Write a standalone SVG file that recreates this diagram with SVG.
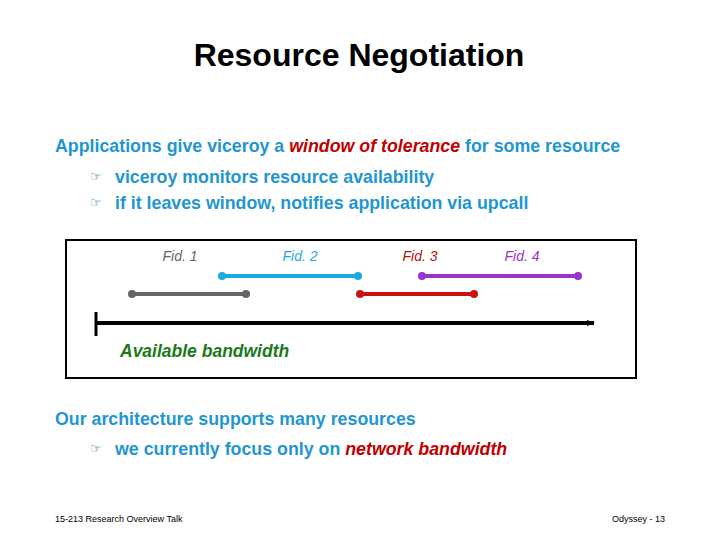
<svg xmlns="http://www.w3.org/2000/svg" width="720" height="540" viewBox="0 0 720 540">
<style>
text{font-family:"Liberation Sans",Arial,sans-serif}
.b{font-weight:bold;fill:#1f96d0;font-size:17.8px}
.r{fill:#c00000;font-style:italic}
.f{font-style:italic;font-size:14px}
.h{font-family:"DejaVu Sans",sans-serif;font-size:13px;fill:#1f96d0}
.s{font-size:9px;fill:#000}
</style>
<defs><marker id="a" markerWidth="8" markerHeight="8" refX="7" refY="4" orient="auto" markerUnits="userSpaceOnUse"><path d="M0,1 L8,4 L0,7z" fill="#000"/></marker></defs>
<rect width="720" height="540" fill="#fff"/>
<text x="359" y="66" text-anchor="middle" font-size="32" font-weight="bold" fill="#000">Resource Negotiation</text>
<text class="b" x="55" y="152">Applications give viceroy a <tspan class="r">window of tolerance</tspan> for some resource</text>
<text class="h" x="90" y="181">☞</text><text class="b" x="115" y="183">viceroy monitors resource availability</text>
<text class="h" x="90" y="207">☞</text><text class="b" x="115" y="209">if it leaves window, notifies application via upcall</text>
<g id="box"><rect x="66" y="240" width="570" height="138" fill="none" stroke="#000" stroke-width="2"/></g>
<g id="fid1"><text class="f" x="180" y="261" text-anchor="middle" fill="#666">Fid. 1</text></g>
<g id="fid2"><text class="f" x="300" y="261" text-anchor="middle" fill="#1ea8e0">Fid. 2</text></g>
<g id="fid3"><text class="f" x="420" y="261" text-anchor="middle" fill="#b01010">Fid. 3</text></g>
<g id="fid4"><text class="f" x="522" y="261" text-anchor="middle" fill="#9933cc">Fid. 4</text></g>
<g id="connectors" stroke-width="4">
<line x1="132" y1="294" x2="246" y2="294" stroke="#666"/><circle cx="132" cy="294" r="4" fill="#666"/><circle cx="246" cy="294" r="4" fill="#666"/>
<line x1="222" y1="276" x2="358" y2="276" stroke="#1ea8e0"/><circle cx="222" cy="276" r="4" fill="#1ea8e0"/><circle cx="358" cy="276" r="4" fill="#1ea8e0"/>
<line x1="360" y1="294" x2="474" y2="294" stroke="#cc1111"/><circle cx="360" cy="294" r="4" fill="#cc1111"/><circle cx="474" cy="294" r="4" fill="#cc1111"/>
<line x1="422" y1="276" x2="578" y2="276" stroke="#9933cc"/><circle cx="422" cy="276" r="4" fill="#9933cc"/><circle cx="578" cy="276" r="4" fill="#9933cc"/>
<line x1="96" y1="323" x2="594" y2="323" stroke="#000" marker-end="url(#a)"/>
<line x1="96" y1="312" x2="96" y2="336" stroke="#000" stroke-width="3"/>
</g>
<text x="120" y="357" font-size="17.5" font-weight="bold" font-style="italic" fill="#1a7a1a">Available bandwidth</text>
<text class="b" x="55" y="425">Our architecture supports many resources</text>
<text class="h" x="90" y="453">☞</text><text class="b" x="115" y="455">we currently focus only on <tspan class="r">network bandwidth</tspan></text>
<text class="s" x="55" y="522">15-213 Research Overview Talk</text>
<text class="s" x="665" y="522" text-anchor="end">Odyssey - 13</text>
</svg>
